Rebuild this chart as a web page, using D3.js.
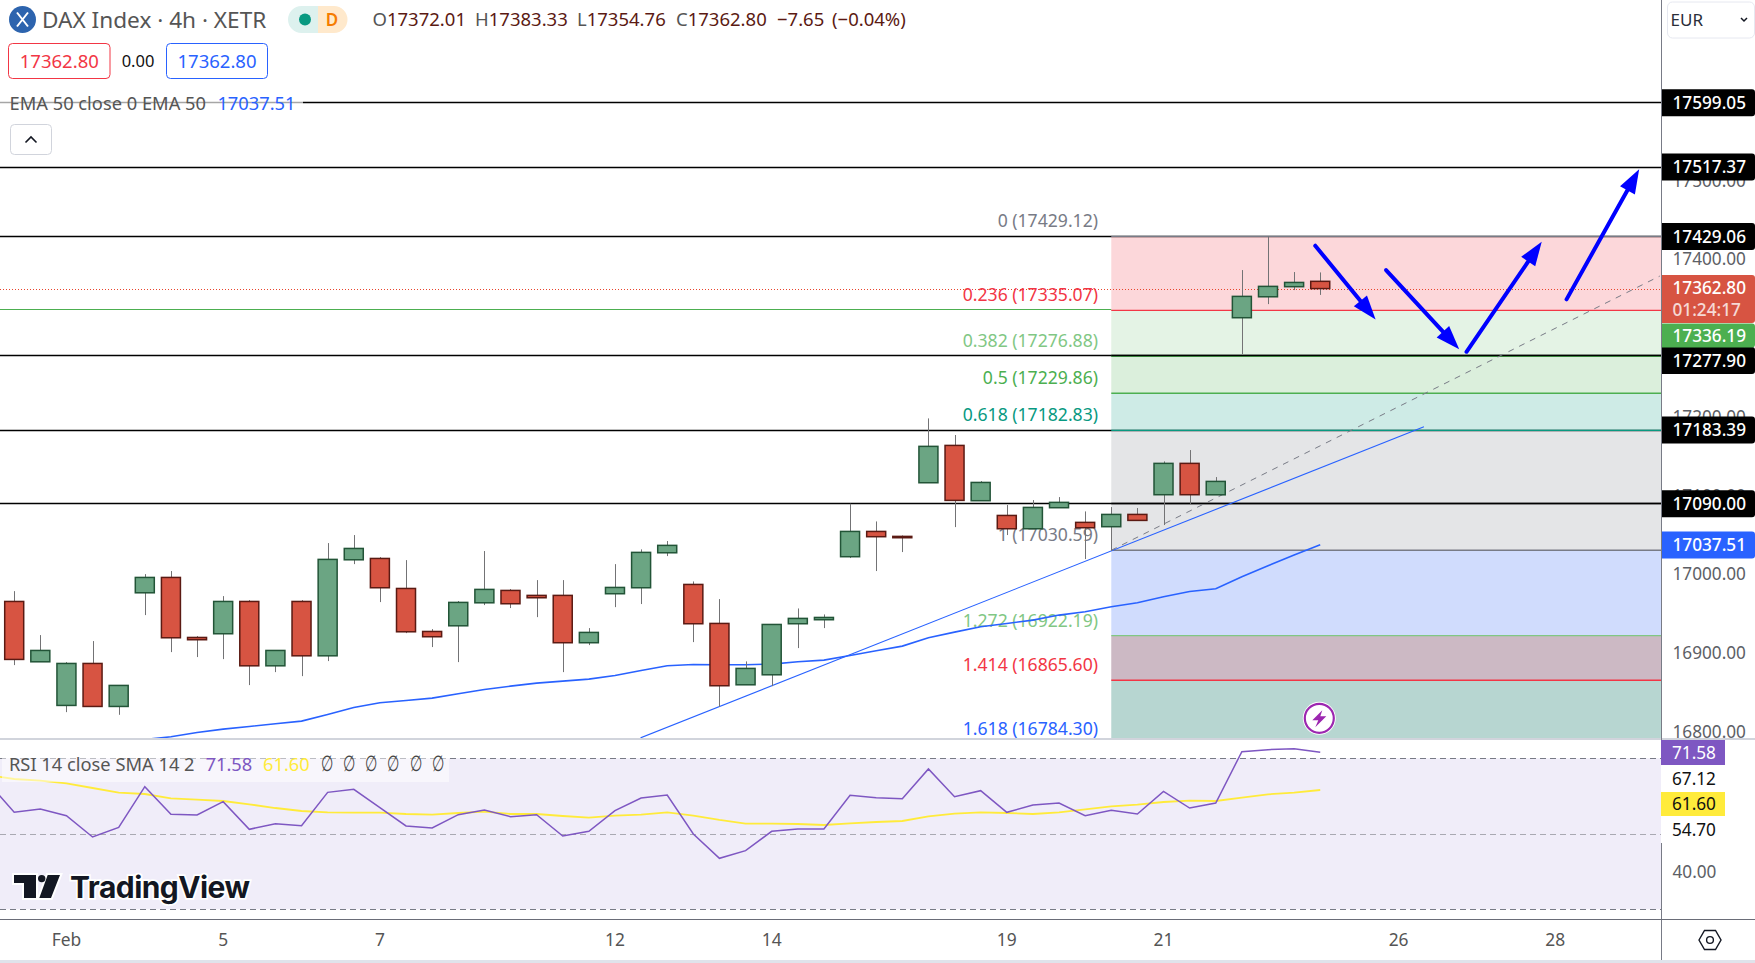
<!DOCTYPE html>
<html><head><meta charset="utf-8">
<script src="https://cdnjs.cloudflare.com/ajax/libs/d3/7.8.5/d3.min.js"></script>
<style>
html,body{margin:0;padding:0;background:#fff;overflow:hidden}
svg{display:block}
text{font-family:"Noto Sans",sans-serif}
</style></head><body>
<svg id="c" width="1755" height="963"></svg>
<script>
const opens=[16965.6,16889,16833.6,16886.9,16832.3,16976.6,16996.1,16919.9,16924.6,16965.6,16883.9,16965.6,16896.6,17018.5,17020.2,16982.1,16927.5,16934.7,16963.9,16979.6,16973.3,16973.3,16913.2,16975.4,16983,17027.4,16987.2,16937.7,16859.8,16872.5,16937.3,16942.4,17022.4,17054.5,17048.2,17116.3,17163.7,17093.5,17074.8,17057.9,17084.6,17066,17060.5,17076.1,17101.1,17140.9,17101,17325.8,17352.4,17365.2,17372.01];
const highs=[16978.7,16922.9,16888.6,16915.3,16859,17000.3,17004.2,16921.6,16972.4,16967.3,16903.4,16967.3,17039.7,17049.9,17021.9,17018.1,16930.5,16966.1,17029.6,16981.3,16992.7,16992.7,16931.8,17013,17031.7,17042.3,16991,16968.6,16889.5,16936.4,16956.7,16949.1,17089.7,17067.2,17049.4,17198,17176.9,17118.4,17088,17094.3,17098.1,17079.9,17085.4,17084.2,17143.4,17157.8,17123.5,17386.3,17429.1,17383.8,17383.33];
const lows=[16884.8,16889,16825.1,16832.3,16821.7,16948.3,16901.3,16895,16892.4,16859.4,16875.9,16870.8,16889.9,17013,16964.8,16925.4,16907.7,16888.6,16961,16957.2,16945.7,16875.9,16910.2,16958.4,16962.3,17023.2,16914,16831.9,16859.8,16858.1,16906.4,16931.8,17020.7,17004.2,17028.3,17116.3,17060,17093.5,17049.9,17057.9,17084.6,17019.4,17030,17068.5,17062.6,17089.2,17101,17279.6,17343.1,17360.9,17354.76];
const closes=[16892,16903.4,16886.9,16832.3,16859,16996.1,16919.5,16917,16965.6,16883.9,16903.4,16896.6,17019,17032.9,16983,16927.1,16920.8,16964.4,16980.9,16962.7,16970.3,16913.2,16926.3,16983.4,17027.9,17036.8,16937.3,16858.6,16880.6,16936.4,16944.1,16945.3,17054.5,17047.8,17046.5,17162.5,17093.9,17116.7,17057.9,17085,17091.4,17059.2,17076.1,17068.5,17140.9,17101.1,17118,17352.9,17365.6,17370.6,17362.8];
const emaStart=5;
const ema50=[16790.4,16793.8,16799.3,16803.5,16806.9,16810.3,16813.7,16822.1,16831,16837,16839.9,16842.9,16848.4,16853.9,16858.1,16861.9,16864.5,16867,16871.7,16878,16883.9,16885.6,16885.2,16885.2,16886.1,16889,16891.1,16897.1,16903,16908.9,16919.5,16926.7,16933.5,16937.7,16941.9,16948.3,16952.5,16958.9,16963.9,16971.6,16978.3,16981.7,16997,17010.9,17024.5,17037.51];
const rsi14=[63.55,55.69,56.57,54.8,49.15,51.71,62.49,55.16,54.98,58.51,51.18,52.68,52.15,60.98,61.78,56.92,52.07,51.54,55.07,56.3,54.54,55.07,49.42,50.65,56.13,59.48,60.28,49.95,43.5,45.53,50.65,51.27,51.27,60.19,59.57,59.31,67.17,59.84,61.43,55.69,57.63,58.16,54.8,56.22,55.25,61.25,56.83,58.16,71.76,72.29,72.55,71.58];
const rsiSma=[65.58,64.52,64.07,63.37,62.13,60.9,60.54,59.4,59.04,58.69,57.81,56.83,56.04,55.69,55.6,55.6,55.25,55.07,55.51,55.86,55.25,55.25,54.72,54.27,54.8,55.07,55.69,54.8,53.66,52.68,52.68,52.6,52.33,52.77,53.13,53.39,54.63,55.33,55.69,55.51,55.25,55.69,56.48,57.28,57.72,58.42,58.78,58.69,59.57,60.45,60.9,61.6];
const fibRatios=["0","0.236","0.382","0.5","0.618","1","1.272","1.414","1.618"];
const fibPrices=[17429.12,17335.07,17276.88,17229.86,17182.83,17030.59,16922.19,16865.60,16784.30];
const fibColors=["#787B86","#F23645","#81C784","#4CAF50","#089981","#787B86","#81C784","#F23645","#2962FF"];
const fibLines=["#787B86","#F23645","#4CAF50","#4CAF50","#089981","#787B86","#81C784","#F23645","#2962FF"];
const fibFills=["rgba(242,54,69,.2)","rgba(76,175,80,.15)","rgba(76,175,80,.2)","rgba(8,153,129,.2)","rgba(120,123,134,.2)","rgba(35,90,245,.21)","#CCB9C4","#B7D6D1"];
const levels=[17599.05,17517.37,17429.06,17277.90,17183.39,17090.00];
const priceTicks=[17500,17400,17300,17200,17100,17000,16900,16800];
const timeBars=[2,8,14,23,29,38,44,53,59];
const timeLabels=["Feb","5","7","12","14","19","21","26","28"];
const fibStartBar=42, lastBar=63;
const fibDiag=[[42,17030.59],[63,17378.7]];
const trendLine=[[23.98,16792.4],[53.97,17187.4]];
const arrows=[[[49.81,17417.2],[52.12,17323.7]],[[52.52,17386.3],[55.32,17285.7]],[[55.6,17282.6],[58.48,17422.3]],[[59.43,17349.1],[62.21,17514.2]]];
const rsiBands=[70,50,30];
const rsiTicks=[40];

const AX=1661, PANE=738, RTOP=740, RBOT=919, W=1755, H=963;
const x=d3.scaleLinear().domain([0,lastBar]).range([14.2,AX-1.2]);
const y=d3.scaleLinear().domain([16792,17729.16]).range([PANE+.2,0]);
const ry=d3.scaleLinear().domain([30,70]).range([909.3,758.3]);
const svg=d3.select("#c");
const FONT='"Noto Sans",sans-serif';
const defs=svg.append("defs");
defs.append("clipPath").attr("id","pc").append("rect").attr("width",AX).attr("height",PANE);
defs.append("clipPath").attr("id","rc").append("rect").attr("y",RTOP).attr("width",AX).attr("height",RBOT-RTOP);
const pane=svg.append("g").attr("clip-path","url(#pc)");
const fx=x(fibStartBar);

// horizontal levels
pane.selectAll(".lvl").data(levels).join("line").attr("x1",0).attr("x2",AX)
 .attr("y1",d=>Math.round(y(d))+.5).attr("y2",d=>Math.round(y(d))+.5).attr("stroke","#000").attr("stroke-width",1.4);
pane.append("line").attr("x1",0).attr("x2",fx).attr("y1",Math.round(y(17336.19))-.5).attr("y2",Math.round(y(17336.19))-.5).attr("stroke","#4CAF50").attr("stroke-width",1);

// fib fills and lines
fibFills.forEach((c,i)=>{
 pane.append("rect").attr("x",fx).attr("width",AX-fx).attr("y",y(fibPrices[i])).attr("height",y(fibPrices[i+1])-y(fibPrices[i])).attr("fill",c);
});
fibPrices.forEach((p,i)=>{
 pane.append("line").attr("x1",fx).attr("x2",AX).attr("y1",y(p)).attr("y2",y(p)).attr("stroke",fibLines[i]).attr("stroke-width",1.4);
});
[17277.90,17090.00].forEach(d=>pane.append("line").attr("x1",fx).attr("x2",AX).attr("y1",Math.round(y(d))+.5).attr("y2",Math.round(y(d))+.5).attr("stroke","#000").attr("stroke-width",1.3));
pane.append("line").attr("x1",0).attr("x2",AX).attr("y1",Math.round(y(17362.8))+.5).attr("y2",Math.round(y(17362.8))+.5).attr("stroke","#E8452E").attr("stroke-width",1.1).attr("stroke-dasharray","1 2");
pane.selectAll(".fl").data(fibPrices).join("text").attr("x",1098).attr("y",d=>y(d)-15.3).attr("dy",".36em")
 .attr("text-anchor","end").attr("font-size",17.6).attr("fill",(d,i)=>fibColors[i])
 .text((d,i)=>fibRatios[i]+" ("+d.toFixed(2)+")");

// EMA + trend
const ln=d3.line().x(d=>x(d[0])).y(d=>y(d[1]));
pane.append("path").attr("d",ln(ema50.map((v,i)=>[i+emaStart,v]))).attr("fill","none").attr("stroke","#2962FF").attr("stroke-width",1.6);
pane.append("path").attr("d",ln(trendLine)).attr("fill","none").attr("stroke","#2962FF").attr("stroke-width",1.1);
pane.append("path").attr("d",ln(fibDiag)).attr("fill","none").attr("stroke","#787B86").attr("stroke-width",1).attr("stroke-dasharray","6 6");

// candles
const bw=19;
const up=i=>closes[i]>=opens[i];
const cg=pane.selectAll(".cd").data(opens).join("g");
cg.append("line").attr("x1",(d,i)=>Math.round(x(i))+.5).attr("x2",(d,i)=>Math.round(x(i))+.5)
 .attr("y1",(d,i)=>y(highs[i])).attr("y2",(d,i)=>y(lows[i])).attr("stroke","#737375").attr("stroke-width",1);
cg.append("rect").attr("x",(d,i)=>x(i)-bw/2).attr("width",bw)
 .attr("y",(d,i)=>y(Math.max(opens[i],closes[i])))
 .attr("height",(d,i)=>Math.max(1,Math.abs(y(opens[i])-y(closes[i]))))
 .attr("fill",(d,i)=>up(i)?"#6BA583":"#D75442").attr("stroke",(d,i)=>up(i)?"#225437":"#5B1A13").attr("stroke-width",1.5);

// arrows
arrows.forEach(a=>{
 const [x0,y0,x1,y1]=[x(a[0][0]),y(a[0][1]),x(a[1][0]),y(a[1][1])];
 const L=Math.hypot(x1-x0,y1-y0),ux=(x1-x0)/L,uy=(y1-y0)/L,hl=24,hw=8.5;
 pane.append("line").attr("x1",x0).attr("y1",y0).attr("x2",x1-ux*hl*.8).attr("y2",y1-uy*hl*.8).attr("stroke","#0000FF").attr("stroke-width",4).attr("stroke-linecap","round");
 const bx=x1-ux*hl,by=y1-uy*hl;
 pane.append("path").attr("d",`M${x1},${y1}L${bx-uy*hw},${by+ux*hw}L${bx+uy*hw},${by-ux*hw}Z`).attr("fill","#0000FF");
});

// lightning
const li=svg.append("g").attr("transform","translate(1319.3,718.3)");
li.append("circle").attr("r",16.5).attr("fill","#fff");
li.append("circle").attr("r",14.5).attr("fill","none").attr("stroke","#9C27B0").attr("stroke-width",2.2);
li.append("path").attr("d","M3,-8 L-7,2 L-1,2 L-4,9 L7,-2 L1,-2 Z").attr("fill","#9C27B0");

svg.append("rect").attr("y",PANE).attr("width",W).attr("height",2).attr("fill","#D1D4DC");

// RSI pane
const rp=svg.append("g").attr("clip-path","url(#rc)");
rp.append("rect").attr("x",0).attr("width",AX).attr("y",ry(70)).attr("height",ry(30)-ry(70)).attr("fill","#F0EDF9");
rsiBands.forEach((b,i)=>rp.append("line").attr("x1",0).attr("x2",AX).attr("y1",Math.round(ry(b))+.5).attr("y2",Math.round(ry(b))+.5)
 .attr("stroke",i==1?"#A9A9B2":"#787B86").attr("stroke-width",1).attr("stroke-dasharray","6 4"));
const rl=d3.line().x((d,i)=>x(i-1)).y(d=>ry(d));
rp.append("path").attr("d",rl(rsiSma)).attr("fill","none").attr("stroke","#FFEB3B").attr("stroke-width",1.8);
rp.append("path").attr("d",rl(rsi14)).attr("fill","none").attr("stroke","#7E57C2").attr("stroke-width",1.5);

svg.append("rect").attr("x",2).attr("y",744).attr("width",447).attr("height",38).attr("fill","#fff").attr("opacity",.5);
function txt(t,px,py,fs,fill,anchor,weight){return svg.append("text").attr("x",px).attr("y",py).attr("dy",".36em").attr("font-size",fs).attr("fill",fill).attr("text-anchor",anchor||"start").attr("font-weight",weight||400).text(t);}
txt("RSI 14 close SMA 14 2",9,764,18.3,"#555");
txt("71.58",205.5,764,18.3,"#7E57C2");
txt("61.60",263,764,18.3,"#FFEB3B");
[320.7,343,365,387,409.5,431.7].forEach(px=>txt("∅",0,0,20,"#444").attr("dy",null).attr("transform",`translate(${px},771) scale(.72,1.12)`));

// TV logo
const lg=svg.append("g");
lg.append("path").attr("d","M14,875H36V898H24V883H14Z M60,875H47.7L39.3,898H51Z").attr("fill","#131722").attr("stroke","#fff").attr("stroke-width",4).attr("paint-order","stroke");
lg.append("circle").attr("cx",41.7).attr("cy",878.6).attr("r",3.7).attr("fill","#131722");
svg.append("text").attr("x",70).attr("y",898).attr("font-size",30).attr("font-weight",700).attr("fill","#131722").attr("stroke","#fff").attr("stroke-width",3.5).attr("paint-order","stroke").style("font-family","Inter,sans-serif").attr("textLength",180).text("TradingView");

// price axis ticks
const pa=svg.append("g").attr("transform",`translate(${AX},0)`).call(d3.axisRight(y).tickValues(priceTicks).tickSize(0).tickPadding(11.5).tickFormat(d3.format(".2f")));
pa.select(".domain").remove();
pa.selectAll("text").attr("font-size",17.2).attr("fill","#5d5f66").style("font-family",FONT);
svg.append("rect").attr("x",AX+1).attr("y",PANE).attr("width",W-AX).attr("height",2).attr("fill","#D1D4DC");
svg.append("rect").attr("x",AX+1).attr("y",RTOP).attr("width",W-AX).attr("height",14).attr("fill","#fff");

const ra=svg.append("g").attr("transform",`translate(${AX},0)`).call(d3.axisRight(ry).tickValues(rsiTicks).tickSize(0).tickPadding(11.5).tickFormat(d3.format(".2f")));
ra.select(".domain").remove();
ra.selectAll("text").attr("font-size",17.2).attr("fill","#5d5f66").style("font-family",FONT);

svg.append("line").attr("x1",AX+.5).attr("x2",AX+.5).attr("y1",0).attr("y2",960).attr("stroke","#787B86").attr("stroke-width",1);
svg.append("line").attr("x1",0).attr("x2",W).attr("y1",919.5).attr("y2",919.5).attr("stroke","#6A6D78").attr("stroke-width",1);
svg.append("rect").attr("y",960).attr("width",W).attr("height",3).attr("fill","#E0E3EB");

// time axis
const ta=svg.append("g").attr("transform",`translate(0,934)`).call(d3.axisBottom(x).tickValues(timeBars).tickSize(0).tickPadding(0).tickFormat((d,i)=>timeLabels[i]));
ta.select(".domain").remove();
ta.selectAll("text").attr("font-size",17.4).attr("fill","#555").attr("dy",".71em").style("font-family",FONT).attr("dx",-.5);

// price labels
const lblBox=[
 {v:17599.05,c:"#000",t:"#fff"},{v:17517.37,c:"#000",t:"#fff"},{v:17429.06,c:"#000",t:"#fff"},
 {v:17277.90,c:"#000",t:"#fff",cy:360.5},{v:17183.39,c:"#000",t:"#fff"},{v:17090.00,c:"#000",t:"#fff"},{v:17037.51,c:"#2962FF",t:"#fff"}];
function box(cy,h,c,xr){svg.append("path").attr("d",`M${AX+1},${cy-h/2}H${xr-3}Q${xr},${cy-h/2} ${xr},${cy-h/2+3}V${cy+h/2-3}Q${xr},${cy+h/2} ${xr-3},${cy+h/2}H${AX+1}Z`).attr("fill",c);}
lblBox.forEach(d=>{const cy=d.cy||y(d.v)+.2;box(cy,27,d.c,W);txt(d.v.toFixed(2),1672.5,cy,17.2,d.t).attr("font-weight",500);});
box(299,48,"#D75442",W);
txt("17362.80",1672.5,288,17.2,"#fff").attr("font-weight",500);
txt("01:24:17",1672.5,310,17.2,"#fff").attr("opacity",.78).attr("font-weight",500);
box(335.5,24,"#4CAF50",W);
txt("17336.19",1672.5,335.5,17.2,"#fff").attr("font-weight",500);

// RSI labels
svg.append("rect").attr("x",AX).attr("y",765).attr("width",64).attr("height",78).attr("fill","#fff");
svg.append("rect").attr("x",AX).attr("y",740).attr("width",64).attr("height",25).attr("fill","#7E57C2");
svg.append("rect").attr("x",AX).attr("y",792).attr("width",64).attr("height",24).attr("fill","#FFEB3B");
txt("71.58",1672,753,17.2,"#fff");
txt("67.12",1672,779,17.2,"#111");
txt("61.60",1672,804,17.2,"#111");
txt("54.70",1672,829.5,17.2,"#111");

// hex icon
svg.append("path").attr("d","M1699,940 L1704.5,930.5 L1715.5,930.5 L1721,940 L1715.5,949.5 L1704.5,949.5 Z").attr("fill","none").attr("stroke","#131722").attr("stroke-width",1.4);
svg.append("circle").attr("cx",1710).attr("cy",940).attr("r",3.4).attr("fill","none").attr("stroke","#131722").attr("stroke-width",1.4);

// Header
svg.append("circle").attr("cx",22.5).attr("cy",19.5).attr("r",13.5).attr("fill","#2D64AE");
svg.append("path").attr("d","M17,12.5 L28,26.5 M28,12.5 L17,26.5").attr("stroke","#fff").attr("stroke-width",2).attr("fill","none");
txt("DAX Index · 4h · XETR",42,19.5,22.6,"#555");
svg.append("path").attr("d","M318,6H301.5A13.5,13.5 0 0 0 301.5,33H318Z").attr("fill","#DDF1EE");
svg.append("path").attr("d","M318,6H334A13.5,13.5 0 0 1 334,33H318Z").attr("fill","#FFE9CC");
svg.append("circle").attr("cx",305).attr("cy",19.5).attr("r",6).attr("fill","#089981");
txt("D",332,19.5,17,"#F57C00","middle",600);
const ohlcLabels=["O","H","L","C"], ohlcValues=["17372.01","17383.33","17354.76","17362.80"], ohlcX=[372.5,475,577,676];
ohlcLabels.forEach((l,i)=>{const t=svg.append("text").attr("x",ohlcX[i]).attr("y",19.5).attr("dy",".36em").attr("font-size",18.5).attr("fill","#555");
 t.append("tspan").text(l); t.append("tspan").attr("fill","#5B1A13").text(ohlcValues[i]);});
txt("−7.65",777,19.5,18.5,"#5B1A13");
txt("(−0.04%)",832,19.5,18.5,"#5B1A13");

svg.append("rect").attr("x",8.5).attr("y",43.5).attr("width",101.5).attr("height",35).attr("rx",4).attr("fill","#fff").attr("stroke","#F23645");
txt("17362.80",59.3,61,18.5,"#F23645","middle");
txt("0.00",138,61,16.5,"#111","middle");
svg.append("rect").attr("x",166.5).attr("y",43.5).attr("width",101).attr("height",35).attr("rx",4).attr("fill","#fff").attr("stroke","#2962FF");
txt("17362.80",217,61,18.5,"#2962FF","middle");

svg.append("rect").attr("x",0).attr("y",92).attr("width",303).attr("height",22).attr("fill","#fff").attr("opacity",.65);
txt("EMA 50 close 0 EMA 50",9.5,103,18.3,"#555");
txt("17037.51",217.4,103,18.3,"#2962FF");
svg.append("rect").attr("x",10.5).attr("y",124.5).attr("width",41).attr("height",30).attr("rx",4).attr("fill","#fff").attr("stroke","#D1D4DC");
svg.append("path").attr("d","M25.5,142.5 L31,137 L36.5,142.5").attr("fill","none").attr("stroke","#131722").attr("stroke-width",1.6);

svg.append("rect").attr("x",1667.5).attr("y",2).attr("width",87).attr("height",36).attr("rx",5).attr("fill","#fff").attr("stroke","#E6E8F0");
txt("EUR",1670.5,20,17,"#2A2E39");
svg.append("path").attr("d","M1741,18 L1744,21 L1747,18").attr("fill","none").attr("stroke","#131722").attr("stroke-width",1.5);
</script>
</body></html>
